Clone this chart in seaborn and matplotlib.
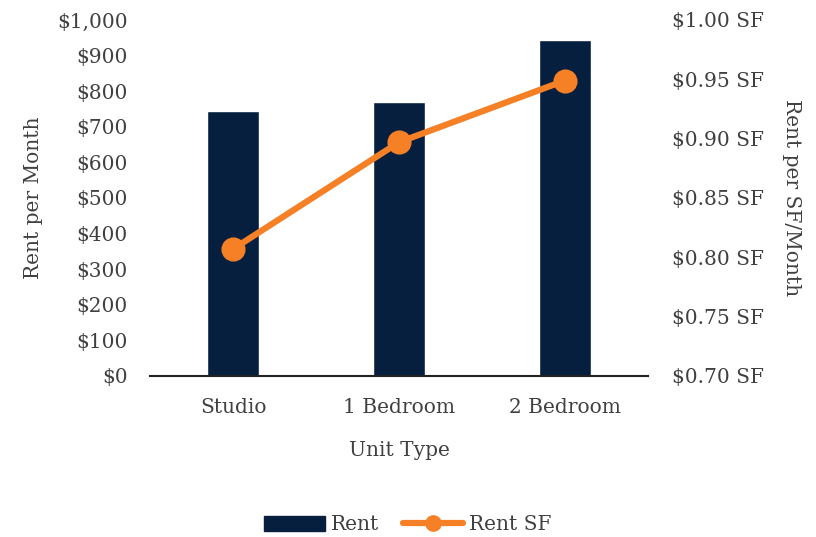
import matplotlib
matplotlib.use("Agg")
import matplotlib.pyplot as plt
import seaborn as sns
import pandas as pd
from matplotlib.patches import Patch
from matplotlib.lines import Line2D
from matplotlib.ticker import FuncFormatter, MultipleLocator

units = ["Studio", "1 Bedroom", "2 Bedroom"]
rent = [744, 770, 944]
rent_sf = [0.807, 0.897, 0.949]

navy = "#061F3F"
orange = "#F58025"
gray = "#404040"
fs = 14.5

sns.set_theme(style="white")
plt.rcParams["font.family"] = ["DejaVu Serif"]

df = pd.DataFrame({"Unit Type": units, "Rent": rent, "Rent SF": rent_sf})

fig = plt.figure(figsize=(8.16, 5.37), dpi=100)
ax = fig.add_axes([150/816, 1-376/537, 498/816, 356/537])
sns.barplot(data=df, x="Unit Type", y="Rent", ax=ax, color=navy, width=0.31, saturation=1)
ax.set_ylim(0, 1000)
ax.set_xlim(-0.5, 2.5)
ax.yaxis.set_major_locator(MultipleLocator(100))
ax.yaxis.set_major_formatter(FuncFormatter(lambda v, p: f"${v:,.0f}"))
for s in ["top", "right", "left"]:
    ax.spines[s].set_visible(False)
ax.spines["bottom"].set_color("#222222")
ax.spines["bottom"].set_linewidth(1.5)
ax.tick_params(axis="y", length=0, labelsize=fs, colors=gray, pad=16)
ax.tick_params(axis="x", length=0, labelsize=fs, colors=gray, pad=16)
ax.set_xlabel("Unit Type", fontsize=fs, color=gray, labelpad=17)
ax.set_ylabel("Rent per Month", fontsize=fs, color=gray, labelpad=10)

ax2 = ax.twinx()
sns.pointplot(data=df, x="Unit Type", y="Rent SF", ax=ax2, color=orange,
              markers="o", markersize=14, linewidth=4.5)
ax2.set_ylim(0.70, 1.00)
ax2.set_xlim(-0.5, 2.5)
ax2.yaxis.set_major_locator(MultipleLocator(0.05))
ax2.yaxis.set_major_formatter(FuncFormatter(lambda v, p: f"${v:.2f} SF"))
for s in ["top", "right", "left", "bottom"]:
    ax2.spines[s].set_visible(False)
ax2.tick_params(axis="y", length=0, labelsize=fs, colors=gray, pad=17)
ax2.set_ylabel("Rent per SF/Month", fontsize=fs, color=gray, rotation=270, labelpad=27)
ax2.grid(False)
ax.grid(False)

handles = [Patch(facecolor=navy, edgecolor=navy),
           Line2D([0], [0], color=orange, lw=4.5, marker="o", markersize=11)]
fig.legend(handles, ["Rent", "Rent SF"], loc="center", bbox_to_anchor=(0.5, 1-525/537),
           ncol=2, frameon=False, fontsize=fs, labelcolor=gray, handlelength=3.0,
           columnspacing=1.2, handletextpad=0.3)

fig.savefig("out.png", dpi=100)
